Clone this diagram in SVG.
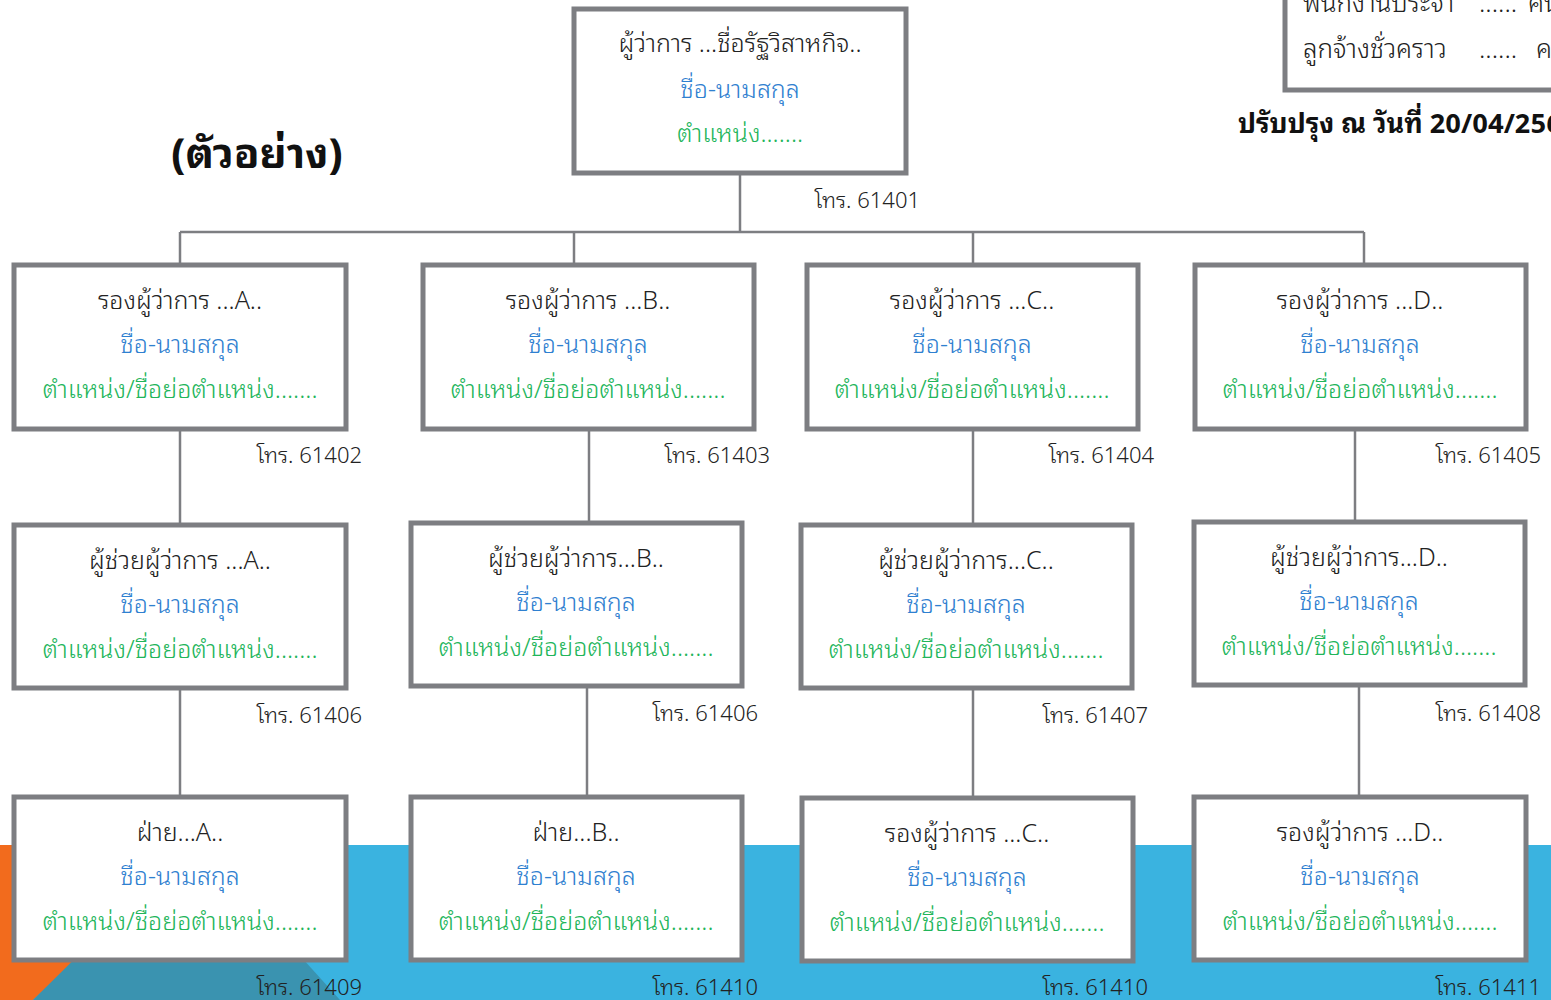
<svg xmlns="http://www.w3.org/2000/svg" width="1551" height="1000" viewBox="0 0 1551 1000">
<style>
.bx{fill:#ffffff;stroke:#7d7e82;stroke-width:5}
.t{font-family:"Noto Sans Thai Looped","Noto Sans Thai","Noto Sans","DejaVu Sans",sans-serif;font-size:25px;font-weight:300;text-anchor:middle}
.k{fill:#222222}
.b{fill:#2f80d0}
.g{fill:#22b55a}
.ph{font-family:"Noto Sans Thai Looped","Noto Sans Thai","Noto Sans","DejaVu Sans",sans-serif;font-size:22px;font-weight:300;fill:#222222;text-anchor:end}
.ln{stroke:#7d7e82;stroke-width:2.5;fill:none}
.s{font-family:"Noto Sans Thai Looped","Noto Sans Thai","Noto Sans",sans-serif;font-size:26px;font-weight:300;fill:#222222}
</style>
<rect x="0" y="0" width="1551" height="1000" fill="#ffffff"/>
<g id="background">
<rect x="0" y="845" width="1551" height="155" fill="#3ab3e0"/>
<polygon points="0,845 200,845 33,1000 0,1000" fill="#f26b1d"/>
<polygon points="33,1000 190,845 200,845 340,1000" fill="#3a93b0"/>
</g>
<g id="connectors">
<line class="ln" x1="740" y1="175" x2="740" y2="232"/>
<line class="ln" x1="180" y1="232" x2="1364" y2="232"/>
<line class="ln" x1="180" y1="232" x2="180" y2="263"/>
<line class="ln" x1="574" y1="232" x2="574" y2="263"/>
<line class="ln" x1="973" y1="232" x2="973" y2="263"/>
<line class="ln" x1="1364" y1="232" x2="1364" y2="263"/>
<line class="ln" x1="180" y1="431" x2="180" y2="523"/>
<line class="ln" x1="589" y1="431" x2="589" y2="521"/>
<line class="ln" x1="973" y1="431" x2="973" y2="523"/>
<line class="ln" x1="1355" y1="431" x2="1355" y2="520"/>
<line class="ln" x1="180" y1="690" x2="180" y2="795"/>
<line class="ln" x1="587" y1="688" x2="587" y2="795"/>
<line class="ln" x1="973" y1="690" x2="973" y2="796"/>
<line class="ln" x1="1359" y1="687" x2="1359" y2="795"/>
</g>
<g id="title">
<text x="257" y="168" font-family="Noto Sans Thai Looped,Noto Sans Thai,Noto Sans,sans-serif" font-size="42" font-weight="bold" fill="#111" text-anchor="middle">(ตัวอย่าง)</text>
</g>
<g id="staff-box">
<rect class="bx" x="1285" y="-60" width="300" height="150"/>
<text class="s" x="1303" y="12">พนักงานประจำ</text>
<text class="s" x="1479" y="12">......</text>
<text class="s" x="1528" y="12">คน</text>
<text class="s" x="1303" y="58">ลูกจ้างชั่วคราว</text>
<text class="s" x="1479" y="58">......</text>
<text class="s" x="1536" y="58">คน</text>
</g>
<g id="updated">
<text x="1238" y="133" font-family="Noto Sans Thai Looped,Noto Sans Thai,Noto Sans,sans-serif" font-size="27" font-weight="bold" fill="#111">ปรับปรุง ณ วันที่ 20/04/2561</text>
</g>
<g id="n-governor">
<rect class="bx" x="574" y="9" width="332" height="164"/>
<text class="t k" x="740" y="52">ผู้ว่าการ ...ชื่อรัฐวิสาหกิจ..</text>
<text class="t b" x="740" y="98">ชื่อ-นามสกุล</text>
<text class="t g" x="740" y="142">ตำแหน่ง.......</text>
<text class="ph" x="920" y="208">โทร. 61401</text>
</g>
<g id="n-deputy-a">
<rect class="bx" x="14" y="265" width="332" height="164"/>
<text class="t k" x="180" y="309">รองผู้ว่าการ ...A..</text>
<text class="t b" x="180" y="353">ชื่อ-นามสกุล</text>
<text class="t g" x="180" y="398">ตำแหน่ง/ชื่อย่อตำแหน่ง.......</text>
<text class="ph" x="362" y="463">โทร. 61402</text>
</g>
<g id="n-deputy-b">
<rect class="bx" x="423" y="265" width="331" height="164"/>
<text class="t k" x="588" y="309">รองผู้ว่าการ ...B..</text>
<text class="t b" x="588" y="353">ชื่อ-นามสกุล</text>
<text class="t g" x="588" y="398">ตำแหน่ง/ชื่อย่อตำแหน่ง.......</text>
<text class="ph" x="770" y="463">โทร. 61403</text>
</g>
<g id="n-deputy-c">
<rect class="bx" x="807" y="265" width="331" height="164"/>
<text class="t k" x="972" y="309">รองผู้ว่าการ ...C..</text>
<text class="t b" x="972" y="353">ชื่อ-นามสกุล</text>
<text class="t g" x="972" y="398">ตำแหน่ง/ชื่อย่อตำแหน่ง.......</text>
<text class="ph" x="1154" y="463">โทร. 61404</text>
</g>
<g id="n-deputy-d">
<rect class="bx" x="1195" y="265" width="331" height="164"/>
<text class="t k" x="1360" y="309">รองผู้ว่าการ ...D..</text>
<text class="t b" x="1360" y="353">ชื่อ-นามสกุล</text>
<text class="t g" x="1360" y="398">ตำแหน่ง/ชื่อย่อตำแหน่ง.......</text>
<text class="ph" x="1541" y="463">โทร. 61405</text>
</g>
<g id="n-assistant-a">
<rect class="bx" x="14" y="525" width="332" height="163"/>
<text class="t k" x="180" y="569">ผู้ช่วยผู้ว่าการ ...A..</text>
<text class="t b" x="180" y="613">ชื่อ-นามสกุล</text>
<text class="t g" x="180" y="658">ตำแหน่ง/ชื่อย่อตำแหน่ง.......</text>
<text class="ph" x="362" y="723">โทร. 61406</text>
</g>
<g id="n-assistant-b">
<rect class="bx" x="411" y="523" width="331" height="163"/>
<text class="t k" x="576" y="567">ผู้ช่วยผู้ว่าการ...B..</text>
<text class="t b" x="576" y="611">ชื่อ-นามสกุล</text>
<text class="t g" x="576" y="656">ตำแหน่ง/ชื่อย่อตำแหน่ง.......</text>
<text class="ph" x="758" y="721">โทร. 61406</text>
</g>
<g id="n-assistant-c">
<rect class="bx" x="801" y="525" width="331" height="163"/>
<text class="t k" x="966" y="569">ผู้ช่วยผู้ว่าการ...C..</text>
<text class="t b" x="966" y="613">ชื่อ-นามสกุล</text>
<text class="t g" x="966" y="658">ตำแหน่ง/ชื่อย่อตำแหน่ง.......</text>
<text class="ph" x="1148" y="723">โทร. 61407</text>
</g>
<g id="n-assistant-d">
<rect class="bx" x="1194" y="522" width="331" height="163"/>
<text class="t k" x="1359" y="566">ผู้ช่วยผู้ว่าการ...D..</text>
<text class="t b" x="1359" y="610">ชื่อ-นามสกุล</text>
<text class="t g" x="1359" y="655">ตำแหน่ง/ชื่อย่อตำแหน่ง.......</text>
<text class="ph" x="1541" y="721">โทร. 61408</text>
</g>
<g id="n-dept-a">
<rect class="bx" x="14" y="797" width="332" height="163"/>
<text class="t k" x="180" y="841">ฝ่าย...A..</text>
<text class="t b" x="180" y="885">ชื่อ-นามสกุล</text>
<text class="t g" x="180" y="930">ตำแหน่ง/ชื่อย่อตำแหน่ง.......</text>
<text class="ph" x="362" y="995">โทร. 61409</text>
</g>
<g id="n-dept-b">
<rect class="bx" x="411" y="797" width="331" height="163"/>
<text class="t k" x="576" y="841">ฝ่าย...B..</text>
<text class="t b" x="576" y="885">ชื่อ-นามสกุล</text>
<text class="t g" x="576" y="930">ตำแหน่ง/ชื่อย่อตำแหน่ง.......</text>
<text class="ph" x="758" y="995">โทร. 61410</text>
</g>
<g id="n-dept-c">
<rect class="bx" x="802" y="798" width="331" height="163"/>
<text class="t k" x="967" y="842">รองผู้ว่าการ ...C..</text>
<text class="t b" x="967" y="886">ชื่อ-นามสกุล</text>
<text class="t g" x="967" y="931">ตำแหน่ง/ชื่อย่อตำแหน่ง.......</text>
<text class="ph" x="1148" y="995">โทร. 61410</text>
</g>
<g id="n-dept-d">
<rect class="bx" x="1194" y="797" width="332" height="163"/>
<text class="t k" x="1360" y="841">รองผู้ว่าการ ...D..</text>
<text class="t b" x="1360" y="885">ชื่อ-นามสกุล</text>
<text class="t g" x="1360" y="930">ตำแหน่ง/ชื่อย่อตำแหน่ง.......</text>
<text class="ph" x="1541" y="995">โทร. 61411</text>
</g>
</svg>
